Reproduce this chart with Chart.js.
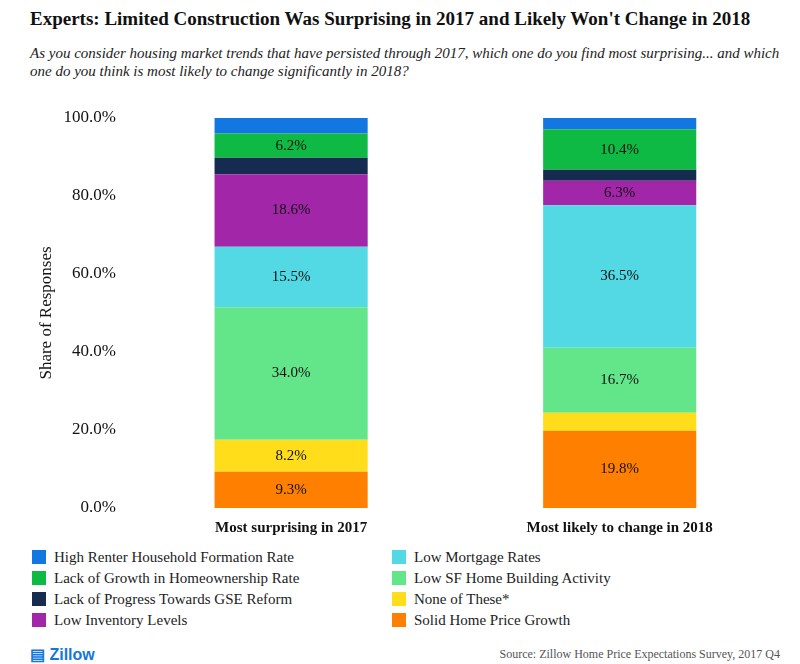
<!DOCTYPE html>
<html><head><meta charset="utf-8">
<script src="https://cdn.jsdelivr.net/npm/chart.js@4"></script>
<style>
body{margin:0;width:800px;height:664px;background:#fff;font-family:"Liberation Serif",serif;position:relative;overflow:hidden}
#title{position:absolute;left:30px;top:8px;font-weight:bold;font-size:19px;color:#111}
#sub{position:absolute;left:30px;top:44px;width:760px;font-style:italic;font-size:15px;line-height:18px;color:#222}
#wrap{position:absolute;left:32px;top:98px;width:752px;height:442px}
#legend{position:absolute;left:32px;top:549px;display:grid;grid-template-columns:360px 360px;row-gap:4px;font-size:15px;color:#222}
#legend span.sw{display:inline-block;width:14px;height:14px;margin-right:8px;vertical-align:-2px}
#logo{position:absolute;left:30px;top:645px;font-family:"Liberation Sans",sans-serif;font-weight:bold;color:#1277e1;font-size:16px}
#src{position:absolute;right:20px;top:647px;font-size:12px;color:#555}
</style></head><body>
<div id="title">Experts: Limited Construction Was Surprising in 2017 and Likely Won't Change in 2018</div>
<div id="sub">As you consider housing market trends that have persisted through 2017, which one do you find most surprising... and which one do you think is most likely to change significantly in 2018?</div>
<div id="wrap"><canvas id="c"></canvas></div>
<div id="legend"></div>
<div id="logo">&#9636; Zillow</div>
<div id="src">Source: Zillow Home Price Expectations Survey, 2017 Q4</div>
<script>
const categories = ["Most surprising in 2017", "Most likely to change in 2018"];
const solidPrice = [9.3, 19.8];
const noneOfThese = [8.2, 4.6];
const lowSF = [34.0, 16.7];
const lowMortgage = [15.5, 36.5];
const lowInventory = [18.6, 6.3];
const gseReform = [4.2, 2.8];
const homeownership = [6.2, 10.4];
const renterFormation = [4.0, 2.9];
const yTicks = [0, 20, 40, 60, 80, 100];

const series = [
  { label: "Solid Home Price Growth", data: solidPrice, color: "#ff7f00" },
  { label: "None of These*", data: noneOfThese, color: "#ffdd1a" },
  { label: "Low SF Home Building Activity", data: lowSF, color: "#63e68a" },
  { label: "Low Mortgage Rates", data: lowMortgage, color: "#52d9e3" },
  { label: "Low Inventory Levels", data: lowInventory, color: "#a126a8" },
  { label: "Lack of Progress Towards GSE Reform", data: gseReform, color: "#152b4f" },
  { label: "Lack of Growth in Homeownership Rate", data: homeownership, color: "#0fba44" },
  { label: "High Renter Household Formation Rate", data: renterFormation, color: "#1277e1" },
];
const legendOrder = [7, 3, 6, 2, 5, 1, 4, 0];
document.getElementById("legend").innerHTML = legendOrder.map(i =>
  `<div><span class="sw" style="background:${series[i].color}"></span>${series[i].label}</div>`).join("");

const labelPlugin = {
  id: "barLabels",
  afterDatasetsDraw(chart) {
    const ctx = chart.ctx;
    ctx.save();
    ctx.font = "15px 'Liberation Serif'";
    ctx.fillStyle = "#111";
    ctx.textAlign = "center";
    ctx.textBaseline = "middle";
    chart.data.datasets.forEach((ds, di) => {
      chart.getDatasetMeta(di).data.forEach((bar, i) => {
        const v = ds.data[i];
        if (v < 6) return;
        ctx.fillText(v.toFixed(1) + "%", bar.x, (bar.y + bar.base) / 2);
      });
    });
    ctx.restore();
  }
};

new Chart(document.getElementById("c"), {
  type: "bar",
  data: {
    labels: categories,
    datasets: series.map(s => ({ label: s.label, data: s.data, backgroundColor: s.color,
      categoryPercentage: 1, barPercentage: 0.466 })),
  },
  options: {
    responsive: true, maintainAspectRatio: false, animation: false,
    layout: { padding: { top: 20, right: 0 } },
    plugins: { legend: { display: false }, tooltip: { enabled: false } },
    scales: {
      x: { stacked: true, grid: { display: false }, border: { display: false },
        ticks: { color: "#111", font: { family: "Liberation Serif", size: 15, weight: "bold" } } },
      y: { stacked: true, min: 0, max: 100, grid: { display: false }, border: { display: false },
        afterBuildTicks: ax => { ax.ticks = yTicks.map(v => ({ value: v })); },
        title: { display: true, text: "Share of Responses", color: "#111", font: { family: "Liberation Serif", size: 17 } },
        ticks: { color: "#111", font: { family: "Liberation Serif", size: 17 }, callback: v => v.toFixed(1) + "%" } },
    },
  },
  plugins: [labelPlugin],
});
</script>
</body></html>
